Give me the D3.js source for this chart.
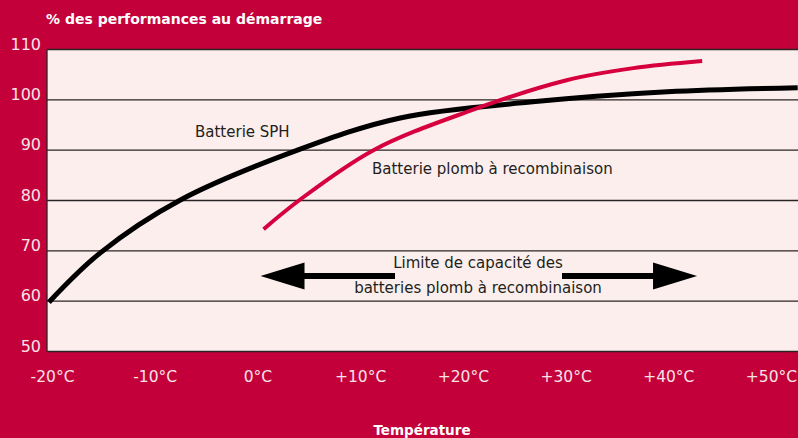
<!DOCTYPE html>
<html>
<head>
<meta charset="utf-8">
<script src="https://cdn.jsdelivr.net/npm/d3@7"></script>
<style>
  body { margin: 0; background: #c4003a; }
  svg { display: block; }
</style>
</head>
<body>
<div id="canvas"></div>
<script>
"use strict"

/* Data (temperature in °C, performance in %) */
let xTicks = [-20, -10, 0, 10, 20, 30, 40, 50];
let yTicks = [50, 60, 70, 80, 90, 100, 110];

let sphTemp = [-20.3, -15.3, -7.5, 3.9, 13.9, 26.8, 39.9, 52.6];
let sphPerf = [59.8, 69.6, 80.1, 90.0, 96.4, 99.6, 101.6, 102.4];

let agmTemp = [0.6, 4.1, 11.3, 20.4, 30.1, 36.6, 43.3];
let agmPerf = [74.3, 80.1, 90.0, 97.6, 103.9, 106.3, 107.7];

let limitRange = [0.3, 42.8];
let limitLevel = 65;

/* Drawing config */
let svgWidth = 798;
let svgHeight = 438;
let plotLeft = 47, plotRight = 798, plotTop = 49.5, plotBottom = 351.5;
let fontFamily = "'DejaVu Sans', sans-serif";

let svg = d3.select("#canvas")
    .append("svg")
    .attr("width", svgWidth)
    .attr("height", svgHeight);

svg.append("rect")
    .attr("width", svgWidth)
    .attr("height", svgHeight)
    .attr("fill", "#c4003a");

let xScale = d3.scaleLinear()
    .domain([-20, 50])
    .range([52, 771]);

let yScale = d3.scaleLinear()
    .domain([50, 110])
    .range([plotBottom, plotTop]);

/* plot area */
svg.append("rect")
    .attr("x", plotLeft)
    .attr("y", plotTop)
    .attr("width", plotRight - plotLeft)
    .attr("height", plotBottom - plotTop)
    .attr("fill", "#fbeeec");

svg.append("clipPath")
    .attr("id", "clip")
    .append("rect")
    .attr("x", plotLeft)
    .attr("y", plotTop)
    .attr("width", plotRight - plotLeft)
    .attr("height", plotBottom - plotTop);

/* gridlines */
svg.selectAll("line.grid")
    .data(yTicks)
    .join("line")
    .attr("class", "grid")
    .attr("x1", plotLeft)
    .attr("x2", plotRight)
    .attr("y1", d => yScale(d))
    .attr("y2", d => yScale(d))
    .attr("stroke", "#2b2424")
    .attr("stroke-width", 1.3);

svg.append("line")
    .attr("x1", plotLeft)
    .attr("x2", plotLeft)
    .attr("y1", plotTop)
    .attr("y2", plotBottom)
    .attr("stroke", "#2b2424")
    .attr("stroke-width", 1.3);

/* y labels */
svg.selectAll("text.ylab")
    .data(yTicks)
    .join("text")
    .attr("class", "ylab")
    .attr("x", 41)
    .attr("y", d => yScale(d))
    .attr("text-anchor", "end")
    .attr("font-family", fontFamily)
    .attr("font-size", 16)
    .attr("fill", "#f7e3e8")
    .text(d => d);

/* x axis labels */
let xAxis = d3.axisBottom(xScale)
    .tickValues(xTicks)
    .tickSize(0)
    .tickPadding(0)
    .tickFormat(d => (d > 0 ? "+" : "") + d + "°C");

let gx = svg.append("g")
    .attr("transform", "translate(0,382)")
    .call(xAxis);
gx.select(".domain").remove();
gx.selectAll("text")
    .attr("dy", 0)
    .attr("font-family", fontFamily)
    .attr("font-size", 15.5)
    .attr("fill", "#f7e3e8");

/* titles */
svg.append("text")
    .attr("x", 46)
    .attr("y", 24)
    .attr("font-family", fontFamily)
    .attr("font-weight", "bold")
    .attr("font-size", 14)
    .attr("fill", "#ffffff")
    .text("% des performances au démarrage");

svg.append("text")
    .attr("x", 422)
    .attr("y", 435)
    .attr("text-anchor", "middle")
    .attr("font-family", fontFamily)
    .attr("font-weight", "bold")
    .attr("font-size", 13.5)
    .attr("fill", "#ffffff")
    .text("Température");

/* curves */
let line = d3.line()
    .x(d => xScale(d[0]))
    .y(d => yScale(d[1]))
    .curve(d3.curveCatmullRom.alpha(0.5));

let plot = svg.append("g").attr("clip-path", "url(#clip)");

plot.append("path")
    .datum(d3.zip(sphTemp, sphPerf))
    .attr("d", line)
    .attr("fill", "none")
    .attr("stroke", "#000")
    .attr("stroke-width", 5);

plot.append("path")
    .datum(d3.zip(agmTemp, agmPerf))
    .attr("d", line)
    .attr("fill", "none")
    .attr("stroke", "#d6003f")
    .attr("stroke-width", 4);

/* curve labels */
svg.append("text")
    .attr("x", 195)
    .attr("y", 137)
    .attr("font-family", fontFamily)
    .attr("font-size", 15)
    .attr("fill", "#231f20")
    .text("Batterie SPH");

svg.append("text")
    .attr("x", 372)
    .attr("y", 174)
    .attr("font-family", fontFamily)
    .attr("font-size", 15)
    .attr("fill", "#231f20")
    .text("Batterie plomb à recombinaison");

/* double arrow for the limit range */
let ay = yScale(limitLevel);
let x0 = xScale(limitRange[0]);
let x1 = xScale(limitRange[1]);
let headLen = 44, headHalf = 13.5, shaft = 3;

svg.append("path")
    .attr("d", `M${x0},${ay} L${x0 + headLen},${ay - headHalf} L${x0 + headLen},${ay - shaft} L395,${ay - shaft} L395,${ay + shaft} L${x0 + headLen},${ay + shaft} L${x0 + headLen},${ay + headHalf} Z`)
    .attr("fill", "#000");

svg.append("path")
    .attr("d", `M${x1},${ay} L${x1 - headLen},${ay - headHalf} L${x1 - headLen},${ay - shaft} L562,${ay - shaft} L562,${ay + shaft} L${x1 - headLen},${ay + shaft} L${x1 - headLen},${ay + headHalf} Z`)
    .attr("fill", "#000");

svg.append("text")
    .attr("x", 478)
    .attr("y", 268)
    .attr("text-anchor", "middle")
    .attr("font-family", fontFamily)
    .attr("font-size", 15)
    .attr("fill", "#231f20")
    .text("Limite de capacité des");

svg.append("text")
    .attr("x", 478)
    .attr("y", 293)
    .attr("text-anchor", "middle")
    .attr("font-family", fontFamily)
    .attr("font-size", 15)
    .attr("fill", "#231f20")
    .text("batteries plomb à recombinaison");
</script>
</body>
</html>
